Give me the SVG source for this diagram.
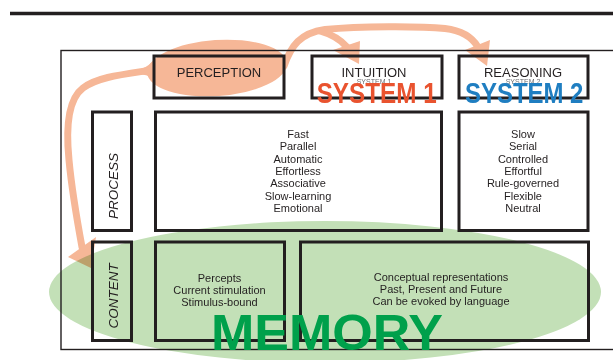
<svg xmlns="http://www.w3.org/2000/svg" width="613" height="360" viewBox="0 0 613 360">
  <style>
    .box { fill: none; stroke: #231f20; stroke-width: 3; }
    .frame { fill: none; stroke: #231f20; stroke-width: 1.4; }
    .lbl { font-family: "Liberation Sans", Arial, sans-serif; font-size: 13px; fill: #231f20; text-anchor: middle; }
    .side { font-family: "Liberation Sans", Arial, sans-serif; font-size: 13.5px; font-style: italic; fill: #231f20; text-anchor: middle; }
    .body { font-family: "Liberation Sans", Arial, sans-serif; font-size: 11px; fill: #231f20; text-anchor: middle; }
    .tiny { font-family: "Liberation Sans", Arial, sans-serif; font-size: 7px; fill: #6d6e71; text-anchor: middle; }
    .big { font-family: "Liberation Sans", Arial, sans-serif; font-weight: bold; text-anchor: middle; }
    .flow { fill: none; stroke: #f6b797; stroke-width: 7; stroke-linecap: round; }
    .head { fill: #f6b797; stroke: none; }
    .arrows { mix-blend-mode: multiply; }
  </style>

  <!-- header rule -->
  <line x1="10" y1="13.5" x2="613" y2="13.5" stroke="#231f20" stroke-width="3.5"/>

  <!-- memory area -->
  <ellipse id="memory-area" cx="325" cy="292" rx="276" ry="71" fill="#c3e0b7"/>

  <!-- flows from perception -->
  <g id="connectors" class="arrows">
    <ellipse cx="217" cy="68" rx="70" ry="28" transform="rotate(-4 217 68)" fill="#f6b797"/>
    <path d="M152,62 Q146,68 138,70 L138,74 Q148,74 154,80 Z" fill="#f6b797"/>
    <path class="flow" d="M145,71 C118,75 96,78 83,88 C67,100 66,130 69,160 C72,192 77,220 82,247"/>
    <polygon class="head" points="68,257 96,237 91,268"/>
    <path class="flow" d="M284,66 C291,46 300,33 325,29.5 C360,26 420,26 445,28.5 C462,30.5 472,37 478,47"/>
    <polygon class="head" points="465,50 490,40 487,66"/>
    <path class="flow" d="M320,31 C334,35 341,40 347,47"/>
    <polygon class="head" points="333,50 360,41 359,64"/>
  </g>

  <!-- outer frame -->
  <rect class="frame" x="61" y="50.5" width="560" height="299"/>

  <g id="perception">
    <rect class="box" x="154" y="56" width="130" height="42"/>
    <text class="lbl" x="219" y="76.5">PERCEPTION</text>
  </g>

  <g id="intuition">
    <rect class="box" x="312" y="56" width="130" height="42"/>
    <text class="lbl" x="374" y="76.5">INTUITION</text>
    <text class="tiny" x="374" y="83.5">SYSTEM 1</text>
    <text class="big" x="376.7" y="103.3" font-size="30" fill="#e9532f" textLength="120" lengthAdjust="spacingAndGlyphs">SYSTEM 1</text>
  </g>

  <g id="reasoning">
    <rect class="box" x="459" y="56" width="129" height="42"/>
    <text class="lbl" x="523" y="76.5">REASONING</text>
    <text class="tiny" x="523" y="83.5">SYSTEM 2</text>
    <text class="big" x="524.2" y="103.3" font-size="30" fill="#1f7ec1" textLength="118.5" lengthAdjust="spacingAndGlyphs">SYSTEM 2</text>
  </g>

  <g id="process-label">
    <rect class="box" x="92.5" y="112" width="39" height="118.5"/>
    <text class="side" transform="translate(117.5 186) rotate(-90)">PROCESS</text>
  </g>

  <g id="process-system1">
    <rect class="box" x="155.5" y="112" width="286" height="118.5"/>
    <text class="body" x="298" y="138">Fast</text>
    <text class="body" x="298" y="150.3">Parallel</text>
    <text class="body" x="298" y="162.6">Automatic</text>
    <text class="body" x="298" y="174.9">Effortless</text>
    <text class="body" x="298" y="187.2">Associative</text>
    <text class="body" x="298" y="199.5">Slow-learning</text>
    <text class="body" x="298" y="211.8">Emotional</text>
  </g>

  <g id="process-system2">
    <rect class="box" x="459" y="112" width="129" height="118.5"/>
    <text class="body" x="523" y="138">Slow</text>
    <text class="body" x="523" y="150.3">Serial</text>
    <text class="body" x="523" y="162.6">Controlled</text>
    <text class="body" x="523" y="174.9">Effortful</text>
    <text class="body" x="523" y="187.2">Rule-governed</text>
    <text class="body" x="523" y="199.5">Flexible</text>
    <text class="body" x="523" y="211.8">Neutral</text>
  </g>

  <g id="content-label">
    <rect class="box" x="92.5" y="242" width="39" height="98.5"/>
    <text class="side" transform="translate(117.5 295.8) rotate(-90)">CONTENT</text>
  </g>

  <g id="content-percepts">
    <rect class="box" x="155.5" y="242" width="129" height="98.5"/>
    <text class="body" x="219.5" y="281.5">Percepts</text>
    <text class="body" x="219.5" y="293.5">Current stimulation</text>
    <text class="body" x="219.5" y="305.5">Stimulus-bound</text>
  </g>

  <g id="content-concepts">
    <rect class="box" x="300.5" y="242" width="288" height="98.5"/>
    <text class="body" x="441" y="280.5">Conceptual representations</text>
    <text class="body" x="441" y="292.5">Past, Present and Future</text>
    <text class="body" x="441" y="304.5">Can be evoked by language</text>
  </g>

  <text id="memory-title" class="big" x="327" y="349.5" font-size="50" fill="#00a04b" textLength="232" lengthAdjust="spacingAndGlyphs">MEMORY</text>
</svg>
